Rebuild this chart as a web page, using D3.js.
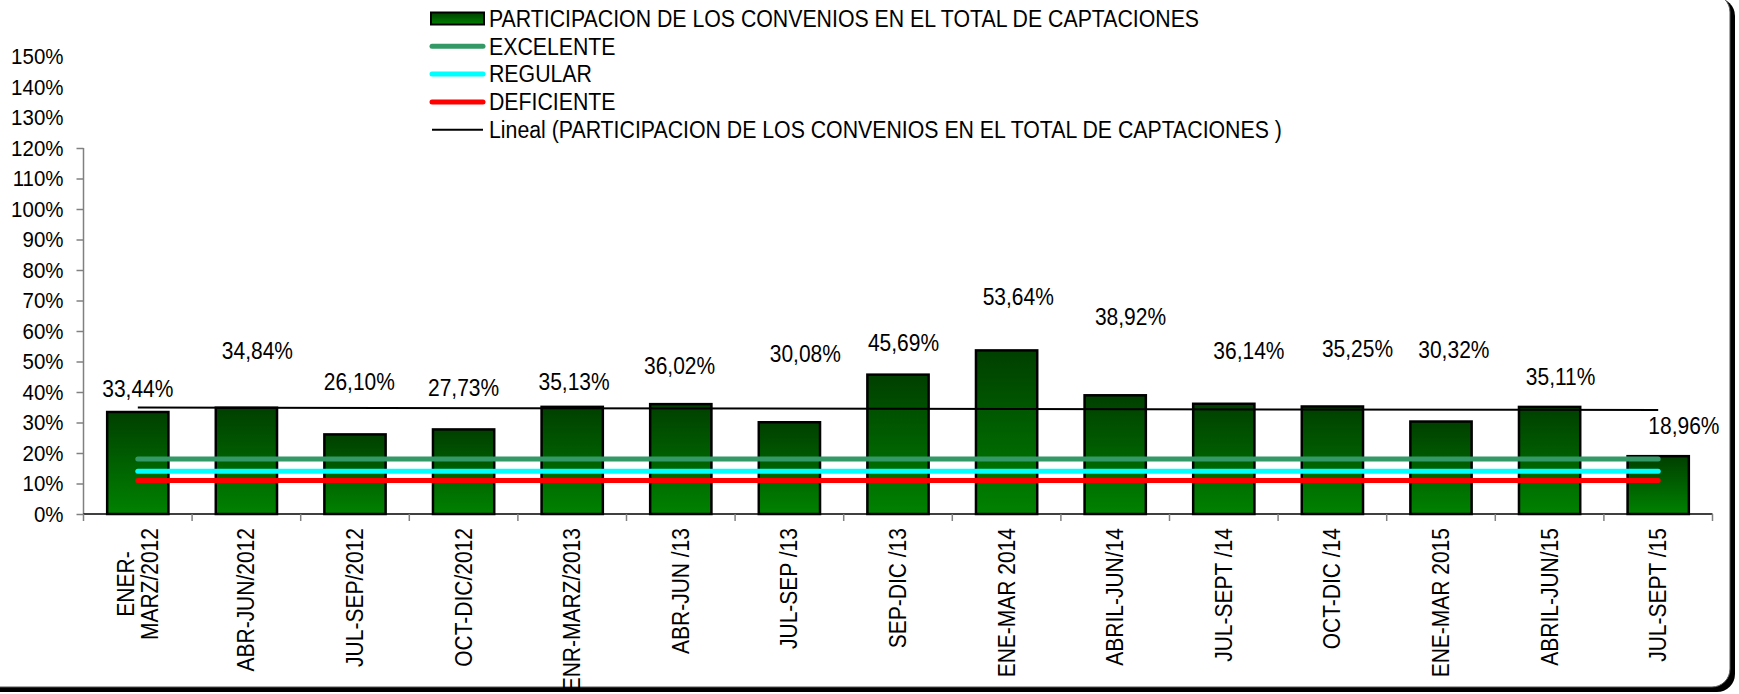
<!DOCTYPE html>
<html>
<head>
<meta charset="utf-8">
<script src="https://cdn.jsdelivr.net/npm/d3@7/dist/d3.min.js"></script>
<style>
  body { margin: 0; background: #fff; }
  svg { display: block; font-family: "Liberation Sans", Arial, sans-serif; }
</style>
</head>
<body>
<div id="chart"></div>
<script>
// data
const categories = [
  "ENER-\nMARZ/2012", "ABR-JUN/2012", "JUL-SEP/2012", "OCT-DIC/2012", "ENR-MARZ/2013",
  "ABR-JUN /13", "JUL-SEP /13", "SEP-DIC /13", "ENE-MAR 2014", "ABRIL-JUN/14",
  "JUL-SEPT /14", "OCT-DIC /14", "ENE-MAR 2015", "ABRIL-JUN/15", "JUL-SEPT /15"
];
const participacion = [0.3344, 0.3484, 0.2610, 0.2773, 0.3513, 0.3602, 0.3008, 0.4569,
  0.5364, 0.3892, 0.3614, 0.3525, 0.3032, 0.3511, 0.1896];
const excelente = 0.18;
const regular = 0.14;
const deficiente = 0.11;
const yTicks = [0, 0.1, 0.2, 0.3, 0.4, 0.5, 0.6, 0.7, 0.8, 0.9, 1.0, 1.1, 1.2, 1.3, 1.4, 1.5];
const legendNames = [
  "PARTICIPACION DE LOS CONVENIOS EN EL TOTAL DE CAPTACIONES",
  "EXCELENTE", "REGULAR", "DEFICIENTE",
  "Lineal (PARTICIPACION DE LOS CONVENIOS EN EL TOTAL DE CAPTACIONES )"
];

// where Excel left the data labels (height on the value axis, sideways shift in band widths)
const labelAt = [0.41, 0.535, 0.434, 0.414, 0.434, 0.485, 0.525, 0.562, 0.712, 0.647, 0.536, 0.541, 0.539, 0.449, 0.29];
const labelShift = [0, 0.18, 0.07, 0, 0.03, -0.02, 0.26, 0.09, 0.19, 0.25, 0.41, 0.41, 0.21, 0.18, 0.42];

const W = 1739, H = 694;
const stretch = "scale(1,1.1)"; // the original text is a bit taller than wide

const svg = d3.select("#chart").append("svg")
  .attr("width", W)
  .attr("height", H);

// frame with shadow, only right/bottom visible
svg.append("rect")
  .attr("x", -30).attr("y", -2)
  .attr("width", 1765).attr("height", 694)
  .attr("rx", 18)
  .attr("fill", "#000");
svg.append("rect")
  .attr("x", -34).attr("y", -6)
  .attr("width", 1764).attr("height", 693)
  .attr("rx", 18)
  .attr("fill", "#fff")
  .attr("stroke", "#555")
  .attr("stroke-width", 1);

const defs = svg.append("defs");
const grad = defs.append("linearGradient")
  .attr("id", "barGrad")
  .attr("x1", 0).attr("y1", 0).attr("x2", 0).attr("y2", 1);
grad.append("stop").attr("offset", "0%").attr("stop-color", "#003f00");
grad.append("stop").attr("offset", "100%").attr("stop-color", "#008200");

const x = d3.scaleBand()
  .domain(categories)
  .range([83.5, 1712.5])
  .paddingInner(0.436)
  .paddingOuter(0.218);

const y = d3.scaleLinear()
  .domain([0, 1.5])
  .range([514, 56.5]);

const cx = d => x(d) + x.bandwidth() / 2;

// y axis
const yAxis = svg.append("g")
  .attr("transform", "translate(83.5,0)")
  .call(d3.axisLeft(y)
    .tickValues(yTicks)
    .tickFormat(d => Math.round(d * 100) + "%")
    .tickSizeInner(7)
    .tickSizeOuter(0)
    .tickPadding(13));
yAxis.select(".domain").remove();
yAxis.selectAll(".tick line")
  .attr("stroke", "#808080")
  .attr("stroke-width", 1.5)
  .filter(d => d > 1.2001).remove();
yAxis.selectAll(".tick text")
  .attr("font-size", 20.5)
  .attr("fill", "#000")
  .attr("transform", stretch);
yAxis.append("line")
  .attr("y1", y(0)).attr("y2", y(1.2))
  .attr("stroke", "#808080")
  .attr("stroke-width", 1.5);

// x axis with ticks between categories
const step = x.step();
const x0 = x.range()[0];
svg.append("line")
  .attr("x1", x0).attr("x2", x.range()[1])
  .attr("y1", y(0)).attr("y2", y(0))
  .attr("stroke", "#000").attr("stroke-width", 1.5);
svg.selectAll(".xtick")
  .data(d3.range(categories.length + 1))
  .enter().append("line")
  .attr("class", "xtick")
  .attr("x1", i => x0 + i * step).attr("x2", i => x0 + i * step)
  .attr("y1", y(0)).attr("y2", y(0) + 7)
  .attr("stroke", "#808080").attr("stroke-width", 1.5);

// bars
svg.selectAll(".bar")
  .data(participacion)
  .enter().append("rect")
  .attr("class", "bar")
  .attr("x", (d, i) => x(categories[i]))
  .attr("y", d => y(d))
  .attr("width", x.bandwidth())
  .attr("height", d => y(0) - y(d))
  .attr("fill", "url(#barGrad)")
  .attr("stroke", "#000")
  .attr("stroke-width", 2.5);

// threshold lines
const first = cx(categories[0]), last = cx(categories[categories.length - 1]);
[[excelente, "#339966"], [regular, "#00ffff"], [deficiente, "#ff0000"]].forEach(([v, c]) => {
  svg.append("line")
    .attr("x1", first).attr("x2", last)
    .attr("y1", y(v)).attr("y2", y(v))
    .attr("stroke", c)
    .attr("stroke-width", 5)
    .attr("stroke-linecap", "round");
});

// linear trend
const n = participacion.length;
const mx = (n - 1) / 2, my = d3.mean(participacion);
const slope = d3.sum(participacion, (v, i) => (i - mx) * (v - my)) /
  d3.sum(participacion, (v, i) => (i - mx) * (i - mx));
const trend = i => my + slope * (i - mx);
svg.append("line")
  .attr("x1", first).attr("x2", last)
  .attr("y1", y(trend(0))).attr("y2", y(trend(n - 1)))
  .attr("stroke", "#000")
  .attr("stroke-width", 2);

// data labels
const fmt = v => (v * 100).toFixed(2).replace(".", ",") + "%";
svg.selectAll(".dlabel")
  .data(participacion)
  .enter().append("text")
  .attr("class", "dlabel")
  .attr("transform", (d, i) =>
    `translate(${cx(categories[i]) + labelShift[i] * x.bandwidth()},${y(labelAt[i])}) ${stretch}`)
  .attr("dy", "0.35em")
  .attr("text-anchor", "middle")
  .attr("font-size", 21)
  .text(fmt);

// category labels, rotated
const labelTop = y(0) + 14;
categories.forEach(c => {
  const lines = c.split("\n");
  const g = svg.append("g")
    .attr("transform", `translate(${cx(c)},0)`);
  const texts = lines.map(l => g.append("text")
    .attr("font-size", 21)
    .attr("text-anchor", "middle")
    .text(l));
  const maxLen = d3.max(texts, t => t.node().getComputedTextLength());
  const lh = 24;
  texts.forEach((t, k) => {
    const off = (k - (lines.length - 1) / 2) * lh;
    t.attr("transform", `translate(${off},${labelTop + maxLen / 2}) rotate(-90) ${stretch}`)
      .attr("dy", "0.35em");
  });
});

// legend
const lg = svg.append("g");
const lx = 431, ly = 18.5, lgap = 27.8;
lg.append("rect")
  .attr("x", lx).attr("y", ly - 6)
  .attr("width", 53).attr("height", 12)
  .attr("fill", "url(#barGrad)")
  .attr("stroke", "#000").attr("stroke-width", 2);
[["#339966", 5], ["#00ffff", 5], ["#ff0000", 5], ["#000", 2]].forEach(([c, w], k) => {
  lg.append("line")
    .attr("x1", lx + 1).attr("x2", lx + 52)
    .attr("y1", ly + (k + 1) * lgap).attr("y2", ly + (k + 1) * lgap)
    .attr("stroke", c).attr("stroke-width", w)
    .attr("stroke-linecap", w > 2 ? "round" : "butt");
});
lg.selectAll(".ltext")
  .data(legendNames)
  .enter().append("text")
  .attr("class", "ltext")
  .attr("transform", (d, k) => `translate(${lx + 58},${ly + k * lgap}) ${stretch}`)
  .attr("dy", "0.35em")
  .attr("font-size", 21.3)
  .text(d => d);
</script>
</body>
</html>
